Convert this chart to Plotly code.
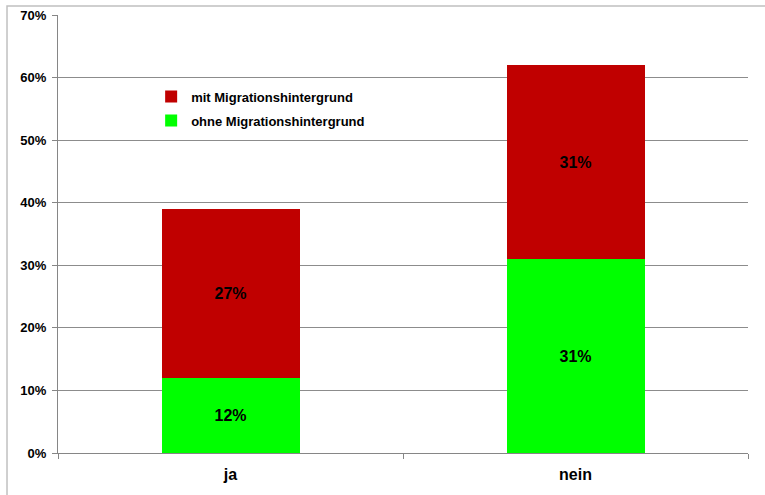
import plotly.graph_objects as go

categories = ["ja", "nein"]
ohne_migration = [0.12, 0.31]
mit_migration = [0.27, 0.31]
series_names = ["ohne Migrationshintergrund", "mit Migrationshintergrund"]
series_colors = ["#00FF00", "#C00000"]
legend_ranks = [2, 1]
y_ticks = [0, 0.1, 0.2, 0.3, 0.4, 0.5, 0.6, 0.7]

FONT = "'Liberation Sans', Arial, sans-serif"

fig = go.Figure()
for name, vals, col, rank in zip(series_names, [ohne_migration, mit_migration],
                                 series_colors, legend_ranks):
    fig.add_trace(go.Bar(
        x=categories, y=vals, name=name, legendgroup=name, legendrank=rank,
        marker=dict(color=col, line=dict(width=0)),
        text=[f"{v:.0%}" for v in vals], textposition="inside",
        insidetextanchor="middle", textangle=0,
        textfont=dict(family=FONT, size=16, color="#000000", weight="bold"),
        hoverinfo="skip",
    ))

fig.update_layout(
    width=765, height=495,
    margin=dict(l=58, r=17, t=15, b=42, autoexpand=False),
    barmode="stack", bargap=0.6,
    paper_bgcolor="white", plot_bgcolor="white",
    font=dict(family=FONT, color="#000000"),
    showlegend=True,
    legend=dict(
        x=0.135, y=0.848, xanchor="left", yanchor="top",
        traceorder="grouped", tracegroupgap=4,
        font=dict(family=FONT, size=13, color="#000000", weight="bold"),
        bgcolor="rgba(0,0,0,0)",
    ),
    xaxis=dict(
        showline=True, linecolor="#868686", linewidth=1,
        ticks="outside", tickson="boundaries", ticklen=5, tickcolor="#868686",
        tickfont=dict(family=FONT, size=16, color="#000000", weight="bold"),
        ticklabelstandoff=7, automargin=False,
        showgrid=False,
    ),
    yaxis=dict(
        range=[0, 0.7], tickvals=y_ticks, tickformat=".0%",
        showline=True, linecolor="#868686", linewidth=1,
        ticks="outside", ticklen=5, tickcolor="#868686",
        tickfont=dict(family=FONT, size=13, color="#000000", weight="bold"),
        ticklabelstandoff=3, automargin=False,
        showgrid=True, gridcolor="#8c8c8c", gridwidth=1,
        zeroline=False,
    ),
    shapes=[dict(
        type="rect", xref="paper", yref="paper",
        x0=-0.0739, x1=1.05, y0=-0.2, y1=1.0205,
        line=dict(color="#c0c0c0", width=1.5), layer="below",
    )],
)

fig.write_html("out.html")
